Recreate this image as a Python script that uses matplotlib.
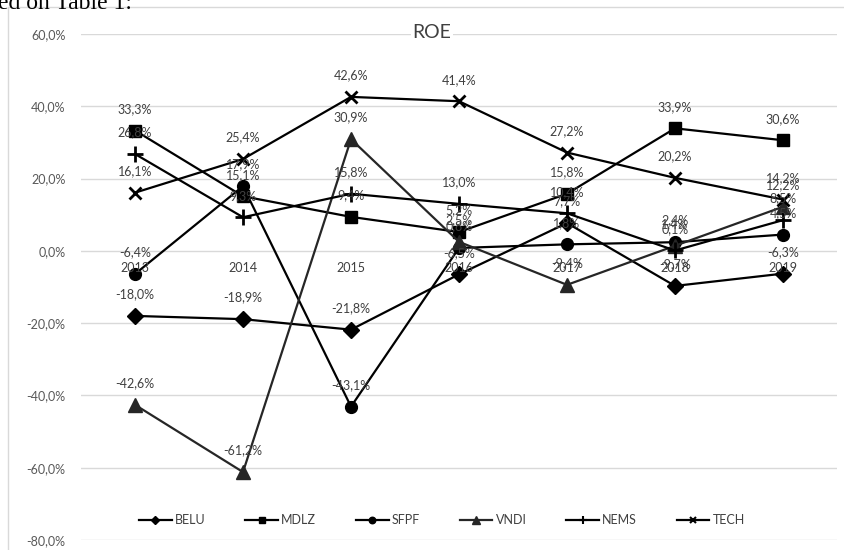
import matplotlib
matplotlib.use("Agg")
import matplotlib.pyplot as plt
from matplotlib.patches import Rectangle
from matplotlib.lines import Line2D

years = ["2013", "2014", "2015", "2016", "2017", "2018", "2019"]
BELU = [-18.0, -18.9, -21.8, -6.5, 7.7, -9.7, -6.3]
MDLZ = [33.3, 15.1, 9.4, 5.2, 15.8, 33.9, 30.6]
SFPF = [-6.4, 17.9, -43.1, 0.8, 1.8, 2.4, 4.5]
VNDI = [-42.6, -61.2, 30.9, 2.5, -9.4, 1.4, 12.2]
NEMS = [26.8, 9.3, 15.8, 13.0, 10.4, 0.1, 8.5]
TECH = [16.1, 25.4, 42.6, 41.4, 27.2, 20.2, 14.2]
yticks = [-80, -60, -40, -20, 0, 20, 40, 60]

series = [
    ("BELU", BELU, "D", 8, "#000000"),
    ("MDLZ", MDLZ, "s", 8, "#000000"),
    ("SFPF", SFPF, "o", 8.5, "#000000"),
    ("VNDI", VNDI, "^", 10, "#262626"),
    ("NEMS", NEMS, "+", 11, "#000000"),
    ("TECH", TECH, "x", 9, "#000000"),
]

FONT = ["Lato", "DejaVu Sans"]
plt.rcParams["font.family"] = FONT

W, H = 845, 550
fig = plt.figure(figsize=(W / 100, H / 100), dpi=100)
ax = fig.add_axes([81 / W, 1 - 540 / H, (837 - 81) / W, (540 - 34) / H])

def fmt(v):
    return f"{v:.1f}".replace(".", ",") + "%"

x = list(range(len(years)))
for name, vals, mk, ms, col in series:
    mew = 2.0 if mk in ("+", "x") else 1.0
    ax.plot(x, vals, color=col, lw=1.6, marker=mk, markersize=ms,
            markeredgewidth=mew, markerfacecolor=col, markeredgecolor=col,
            zorder=3)
    for xi, v in zip(x, vals):
        ax.annotate(fmt(v), (xi, v), xytext=(0, 15.5), textcoords="offset points",
                    ha="center", va="center", fontsize=9, color="#404040", zorder=5)

ax.set_xlim(-0.5, len(years) - 0.5)
ax.set_ylim(-80, 60)
ax.set_yticks(yticks)
ax.set_yticklabels([f"{t:.1f}".replace(".", ",") + "%" for t in yticks],
                   fontsize=9, color="#595959")
ax.tick_params(axis="y", length=0, pad=11)
ax.set_xticks([])
ax.grid(axis="y", color="#d9d9d9", lw=1.0, zorder=0)
for s in ax.spines.values():
    s.set_visible(False)

for xi, yr in zip(x, years):
    ax.annotate(yr, (xi, 0), xytext=(0, -12), textcoords="offset points",
                ha="center", va="center", fontsize=9, color="#404040", zorder=4)

fig.text(432 / W, 1 - 33 / H, "ROE", ha="center", va="center", fontsize=14,
         color="#404040",
         bbox=dict(facecolor="white", edgecolor="none", pad=1.0))

leg_handles = []
for name, vals, mk, ms, col in series:
    mew = 1.5 if mk in ("+", "x") else 1.0
    leg_handles.append(Line2D([], [], color=col, lw=1.6, marker=mk,
                              markersize=ms * 0.55, markeredgewidth=mew,
                              markerfacecolor=col, markeredgecolor=col))
fig.legend(leg_handles, [s[0] for s in series], loc="center",
           bbox_to_anchor=(442 / W, 1 - 520 / H), ncol=6, frameon=False,
           fontsize=9, handlelength=2.6, handletextpad=0.25, columnspacing=3.2,
           labelcolor="#404040")

# chart border (partially cropped)
fig.patches.append(Rectangle((8 / W, -0.1), 1.2, (1 - 7 / H) + 0.1,
                             transform=fig.transFigure, fill=False,
                             edgecolor="#d9d9d9", lw=1.0))

# cropped text from the document above
fig.text(-2 / W, 1 - 9 / H, "ed on Table 1:", ha="left", va="baseline",
         fontsize=17, family="Liberation Serif", color="black")

fig.savefig("out.png", dpi=100)
